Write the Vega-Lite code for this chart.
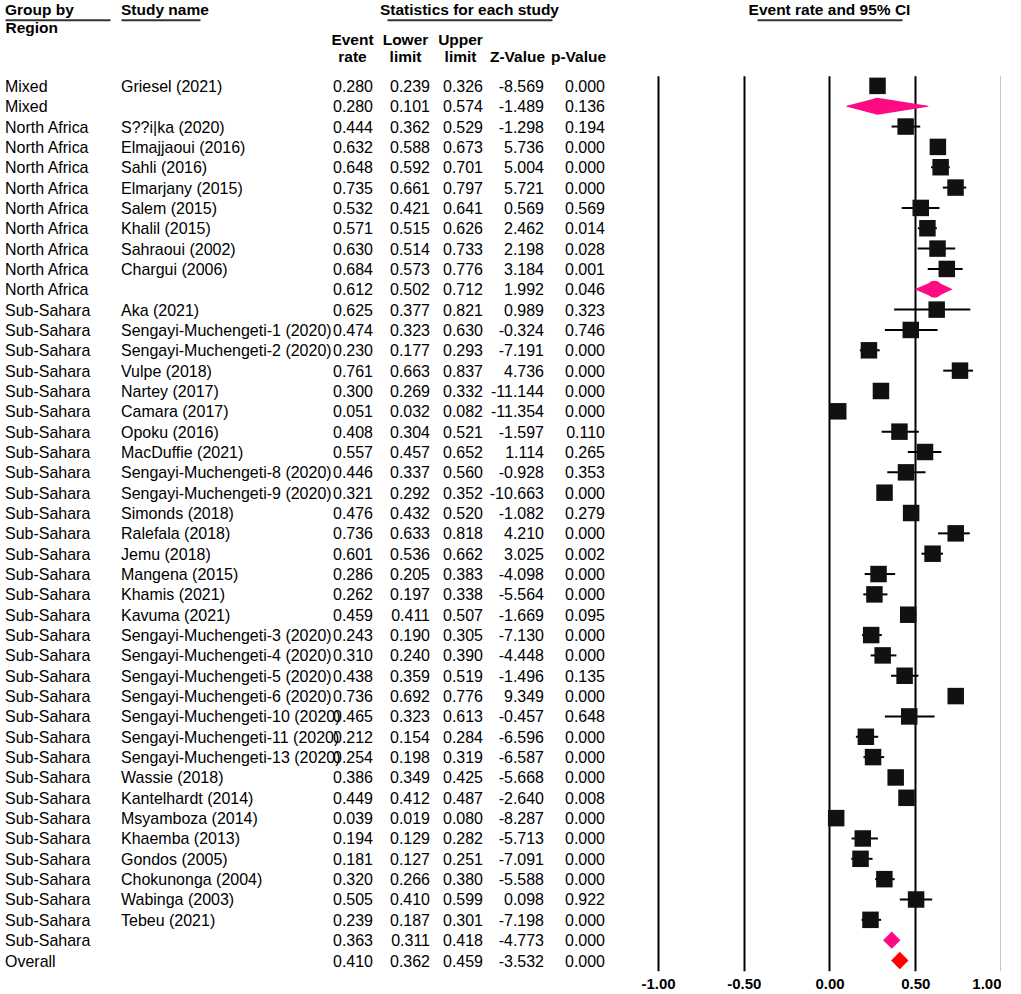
{
  "$schema": "https://vega.github.io/schema/vega-lite/v6.json",
  "padding": {"left": 5, "top": 1.7, "right": 0, "bottom": 0},
  "background": "white",
  "config": {
    "view": {"stroke": null},
    "font": "Liberation Sans",
    "locale": {"number": {"decimal": ".", "thousands": ",", "grouping": [3], "currency": ["$", ""], "minus": "-"}},
    "text": {"font": "Liberation Sans", "fontSize": 16, "color": "black"},
    "title": {"font": "Liberation Sans", "fontSize": 15.5, "fontWeight": "bold", "color": "black", "baseline": "alphabetic"},
    "axis": {"labelFont": "Liberation Sans", "titleFont": "Liberation Sans"}
  },
  "datasets": {
    "rows": [
      {"id": 1, "region": "Mixed", "study": "Griesel  (2021)", "er": 0.280, "ll": 0.239, "ul": 0.326, "z": -8.569, "p": 0.000, "type": "study"},
      {"id": 2, "region": "Mixed", "study": "", "er": 0.280, "ll": 0.101, "ul": 0.574, "z": -1.489, "p": 0.136, "type": "summary"},
      {"id": 3, "region": "North Africa", "study": "S??i|ka (2020)", "er": 0.444, "ll": 0.362, "ul": 0.529, "z": -1.298, "p": 0.194, "type": "study"},
      {"id": 4, "region": "North Africa", "study": "Elmajjaoui (2016)", "er": 0.632, "ll": 0.588, "ul": 0.673, "z": 5.736, "p": 0.000, "type": "study"},
      {"id": 5, "region": "North Africa", "study": "Sahli (2016)", "er": 0.648, "ll": 0.592, "ul": 0.701, "z": 5.004, "p": 0.000, "type": "study"},
      {"id": 6, "region": "North Africa", "study": "Elmarjany (2015)", "er": 0.735, "ll": 0.661, "ul": 0.797, "z": 5.721, "p": 0.000, "type": "study"},
      {"id": 7, "region": "North Africa", "study": "Salem  (2015)", "er": 0.532, "ll": 0.421, "ul": 0.641, "z": 0.569, "p": 0.569, "type": "study"},
      {"id": 8, "region": "North Africa", "study": "Khalil (2015)", "er": 0.571, "ll": 0.515, "ul": 0.626, "z": 2.462, "p": 0.014, "type": "study"},
      {"id": 9, "region": "North Africa", "study": "Sahraoui (2002)", "er": 0.630, "ll": 0.514, "ul": 0.733, "z": 2.198, "p": 0.028, "type": "study"},
      {"id": 10, "region": "North Africa", "study": "Chargui (2006)", "er": 0.684, "ll": 0.573, "ul": 0.776, "z": 3.184, "p": 0.001, "type": "study"},
      {"id": 11, "region": "North Africa", "study": "", "er": 0.612, "ll": 0.502, "ul": 0.712, "z": 1.992, "p": 0.046, "type": "summary"},
      {"id": 12, "region": "Sub-Sahara", "study": "Aka (2021)", "er": 0.625, "ll": 0.377, "ul": 0.821, "z": 0.989, "p": 0.323, "type": "study"},
      {"id": 13, "region": "Sub-Sahara", "study": "Sengayi-Muchengeti-1 (2020)", "er": 0.474, "ll": 0.323, "ul": 0.630, "z": -0.324, "p": 0.746, "type": "study"},
      {"id": 14, "region": "Sub-Sahara", "study": "Sengayi-Muchengeti-2 (2020)", "er": 0.230, "ll": 0.177, "ul": 0.293, "z": -7.191, "p": 0.000, "type": "study"},
      {"id": 15, "region": "Sub-Sahara", "study": "Vulpe (2018)", "er": 0.761, "ll": 0.663, "ul": 0.837, "z": 4.736, "p": 0.000, "type": "study"},
      {"id": 16, "region": "Sub-Sahara", "study": "Nartey (2017)", "er": 0.300, "ll": 0.269, "ul": 0.332, "z": -11.144, "p": 0.000, "type": "study"},
      {"id": 17, "region": "Sub-Sahara", "study": "Camara (2017)", "er": 0.051, "ll": 0.032, "ul": 0.082, "z": -11.354, "p": 0.000, "type": "study"},
      {"id": 18, "region": "Sub-Sahara", "study": "Opoku (2016)", "er": 0.408, "ll": 0.304, "ul": 0.521, "z": -1.597, "p": 0.110, "type": "study"},
      {"id": 19, "region": "Sub-Sahara", "study": "MacDuffie (2021)", "er": 0.557, "ll": 0.457, "ul": 0.652, "z": 1.114, "p": 0.265, "type": "study"},
      {"id": 20, "region": "Sub-Sahara", "study": "Sengayi-Muchengeti-8 (2020)", "er": 0.446, "ll": 0.337, "ul": 0.560, "z": -0.928, "p": 0.353, "type": "study"},
      {"id": 21, "region": "Sub-Sahara", "study": "Sengayi-Muchengeti-9 (2020)", "er": 0.321, "ll": 0.292, "ul": 0.352, "z": -10.663, "p": 0.000, "type": "study"},
      {"id": 22, "region": "Sub-Sahara", "study": "Simonds (2018)", "er": 0.476, "ll": 0.432, "ul": 0.520, "z": -1.082, "p": 0.279, "type": "study"},
      {"id": 23, "region": "Sub-Sahara", "study": "Ralefala (2018)", "er": 0.736, "ll": 0.633, "ul": 0.818, "z": 4.210, "p": 0.000, "type": "study"},
      {"id": 24, "region": "Sub-Sahara", "study": "Jemu (2018)", "er": 0.601, "ll": 0.536, "ul": 0.662, "z": 3.025, "p": 0.002, "type": "study"},
      {"id": 25, "region": "Sub-Sahara", "study": "Mangena (2015)", "er": 0.286, "ll": 0.205, "ul": 0.383, "z": -4.098, "p": 0.000, "type": "study"},
      {"id": 26, "region": "Sub-Sahara", "study": "Khamis (2021)", "er": 0.262, "ll": 0.197, "ul": 0.338, "z": -5.564, "p": 0.000, "type": "study"},
      {"id": 27, "region": "Sub-Sahara", "study": "Kavuma (2021)", "er": 0.459, "ll": 0.411, "ul": 0.507, "z": -1.669, "p": 0.095, "type": "study"},
      {"id": 28, "region": "Sub-Sahara", "study": "Sengayi-Muchengeti-3  (2020)", "er": 0.243, "ll": 0.190, "ul": 0.305, "z": -7.130, "p": 0.000, "type": "study"},
      {"id": 29, "region": "Sub-Sahara", "study": "Sengayi-Muchengeti-4  (2020)", "er": 0.310, "ll": 0.240, "ul": 0.390, "z": -4.448, "p": 0.000, "type": "study"},
      {"id": 30, "region": "Sub-Sahara", "study": "Sengayi-Muchengeti-5  (2020)", "er": 0.438, "ll": 0.359, "ul": 0.519, "z": -1.496, "p": 0.135, "type": "study"},
      {"id": 31, "region": "Sub-Sahara", "study": "Sengayi-Muchengeti-6  (2020)", "er": 0.736, "ll": 0.692, "ul": 0.776, "z": 9.349, "p": 0.000, "type": "study"},
      {"id": 32, "region": "Sub-Sahara", "study": "Sengayi-Muchengeti-10  (2020)", "er": 0.465, "ll": 0.323, "ul": 0.613, "z": -0.457, "p": 0.648, "type": "study"},
      {"id": 33, "region": "Sub-Sahara", "study": "Sengayi-Muchengeti-11  (2020)", "er": 0.212, "ll": 0.154, "ul": 0.284, "z": -6.596, "p": 0.000, "type": "study"},
      {"id": 34, "region": "Sub-Sahara", "study": "Sengayi-Muchengeti-13  (2020)", "er": 0.254, "ll": 0.198, "ul": 0.319, "z": -6.587, "p": 0.000, "type": "study"},
      {"id": 35, "region": "Sub-Sahara", "study": "Wassie (2018)", "er": 0.386, "ll": 0.349, "ul": 0.425, "z": -5.668, "p": 0.000, "type": "study"},
      {"id": 36, "region": "Sub-Sahara", "study": "Kantelhardt (2014)", "er": 0.449, "ll": 0.412, "ul": 0.487, "z": -2.640, "p": 0.008, "type": "study"},
      {"id": 37, "region": "Sub-Sahara", "study": "Msyamboza (2014)", "er": 0.039, "ll": 0.019, "ul": 0.080, "z": -8.287, "p": 0.000, "type": "study"},
      {"id": 38, "region": "Sub-Sahara", "study": "Khaemba (2013)", "er": 0.194, "ll": 0.129, "ul": 0.282, "z": -5.713, "p": 0.000, "type": "study"},
      {"id": 39, "region": "Sub-Sahara", "study": "Gondos (2005)", "er": 0.181, "ll": 0.127, "ul": 0.251, "z": -7.091, "p": 0.000, "type": "study"},
      {"id": 40, "region": "Sub-Sahara", "study": "Chokunonga (2004)", "er": 0.320, "ll": 0.266, "ul": 0.380, "z": -5.588, "p": 0.000, "type": "study"},
      {"id": 41, "region": "Sub-Sahara", "study": "Wabinga (2003)", "er": 0.505, "ll": 0.410, "ul": 0.599, "z": 0.098, "p": 0.922, "type": "study"},
      {"id": 42, "region": "Sub-Sahara", "study": "Tebeu  (2021)", "er": 0.239, "ll": 0.187, "ul": 0.301, "z": -7.198, "p": 0.000, "type": "study"},
      {"id": 43, "region": "Sub-Sahara", "study": "", "er": 0.363, "ll": 0.311, "ul": 0.418, "z": -4.773, "p": 0.000, "type": "summary"},
      {"id": 44, "region": "Overall", "study": "", "er": 0.410, "ll": 0.362, "ul": 0.459, "z": -3.532, "p": 0.000, "type": "overall"}
    ]
  },
  "bounds": "flush",
  "spacing": 57,
  "vconcat": [
    {
      "bounds": "flush",
      "spacing": 0,
      "hconcat": [
        {
          "width": 105, "height": 1,
          "data": {"values": [{"u": 0}]},
          "title": {"text": "Group by", "anchor": "start", "offset": -1.7},
          "mark": {"type": "point", "opacity": 0},
          "encoding": {"x": {"field": "u", "type": "quantitative", "axis": {"domain": true, "domainColor": "#333333", "domainWidth": 2, "ticks": false, "labels": false, "grid": false, "title": "Region", "titleAnchor": "start", "titleAlign": "left", "titleBaseline": "top", "titlePadding": 1, "titleFontSize": 15.5, "titleFontWeight": "bold", "titleColor": "black"}}}
        },
        {"width": 11, "height": 1, "data": {"values": [{"u": 0}]}, "mark": {"type": "point", "opacity": 0}},
        {
          "width": 79, "height": 1,
          "data": {"values": [{"u": 0}]},
          "title": {"text": "Study name", "anchor": "start", "offset": -1.7},
          "mark": {"type": "point", "opacity": 0},
          "encoding": {"x": {"field": "u", "type": "quantitative", "axis": {"domain": true, "domainColor": "#333333", "domainWidth": 2, "ticks": false, "labels": false, "grid": false, "title": null}}}
        },
        {"width": 187, "height": 1, "data": {"values": [{"u": 0}]}, "mark": {"type": "point", "opacity": 0}},
        {
          "width": 165, "height": 1,
          "data": {"values": [{"u": 0}]},
          "title": {"text": "Statistics for each study", "anchor": "middle", "offset": -1.7},
          "mark": {"type": "point", "opacity": 0},
          "encoding": {"x": {"field": "u", "type": "quantitative", "axis": {"domain": true, "domainColor": "#333333", "domainWidth": 2, "ticks": false, "labels": false, "grid": false, "title": null}}}
        },
        {"width": 205, "height": 1, "data": {"values": [{"u": 0}]}, "mark": {"type": "point", "opacity": 0}},
        {
          "width": 145, "height": 1,
          "data": {"values": [{"u": 0}]},
          "title": {"text": "Event rate and 95% CI", "anchor": "middle", "offset": -1.7},
          "mark": {"type": "point", "opacity": 0},
          "encoding": {"x": {"field": "u", "type": "quantitative", "axis": {"domain": true, "domainColor": "#333333", "domainWidth": 2, "ticks": false, "labels": false, "grid": false, "title": null}}}
        }
      ]
    },
    {
      "bounds": "flush",
      "spacing": 0,
      "hconcat": [
        {
          "width": 116, "height": 895,
          "data": {"name": "rows"},
          "transform": [{"fold": ["region", "study"], "as": ["col", "txt"]}],
          "mark": {"type": "text", "align": "left", "baseline": "middle", "dy": 1},
          "encoding": {
            "x": {"field": "col", "type": "nominal", "scale": {"domain": ["region", "study"], "padding": 0}, "axis": null},
            "y": {"field": "id", "type": "quantitative", "scale": {"domain": [0.5, 44.5], "reverse": true, "nice": false, "zero": false}, "axis": null},
            "text": {"field": "txt", "type": "nominal"}
          }
        },
        {"width": 252, "height": 895, "data": {"values": [{"u": 0}]}, "mark": {"type": "point", "opacity": 0}},
        {
          "width": 57, "height": 895,
          "data": {"name": "rows"},
          "transform": [{"fold": ["er", "ll"], "as": ["col", "val"]}],
          "mark": {"type": "text", "align": "right", "baseline": "middle", "dy": 1},
          "encoding": {
            "x": {
              "field": "col", "type": "nominal",
              "scale": {"domain": ["er", "ll"], "padding": 0},
              "axis": {
                "orient": "top", "title": null, "domain": false, "ticks": false, "grid": false,
                "labelAngle": 0, "labelAlign": "center", "labelBaseline": "bottom", "labelLineHeight": 17,
                "labelFontSize": 15.5, "labelFontWeight": "bold", "labelColor": "black", "labelPadding": 28,
                "labelOffset": {"condition": {"test": "datum.value == 'er'", "value": -21}, "value": -25},
                "labelExpr": "datum.value == 'er' ? ['Event', 'rate'] : ['Lower', 'limit']"
              }
            },
            "y": {"field": "id", "type": "quantitative", "scale": {"domain": [0.5, 44.5], "reverse": true, "nice": false, "zero": false}, "axis": null},
            "text": {"field": "val", "type": "quantitative", "format": ".3f"}
          }
        },
        {"width": 53, "height": 895, "data": {"values": [{"u": 0}]}, "mark": {"type": "point", "opacity": 0}},
        {
          "width": 122, "height": 895,
          "data": {"name": "rows"},
          "transform": [{"fold": ["ul", "z", "p"], "as": ["col", "val"]}],
          "mark": {"type": "text", "align": "right", "baseline": "middle", "dy": 1},
          "encoding": {
            "x": {
              "field": "col", "type": "nominal",
              "scale": {"domain": ["ul", "z", "p"], "padding": 0},
              "axis": {
                "orient": "top", "title": null, "domain": false, "ticks": false, "grid": false,
                "labelAngle": 0, "labelAlign": "center", "labelBaseline": "bottom", "labelLineHeight": 17,
                "labelFontSize": 15.5, "labelFontWeight": "bold", "labelColor": "black", "labelPadding": 28,
                "labelOffset": {"condition": {"test": "datum.value == 'ul'", "value": -23}, "value": -27},
                "labelExpr": "datum.value == 'ul' ? ['Upper', 'limit'] : datum.value == 'z' ? ['', 'Z-Value'] : ['', 'p-Value']"
              }
            },
            "y": {"field": "id", "type": "quantitative", "scale": {"domain": [0.5, 44.5], "reverse": true, "nice": false, "zero": false}, "axis": null},
            "text": {"field": "val", "type": "quantitative", "format": ".3f"}
          }
        },
        {
          "width": 396, "height": 895,
          "data": {"name": "rows"},
          "encoding": {
            "y": {"field": "id", "type": "quantitative", "scale": {"domain": [0.5, 44.5], "reverse": true, "nice": false, "zero": false}, "axis": null}
          },
          "layer": [
            {
              "transform": [{"filter": "datum.type == 'study'"}],
              "mark": {"type": "rule", "color": "black", "strokeWidth": 2},
              "encoding": {
                "x": {
                  "field": "ll", "type": "quantitative",
                  "scale": {"domain": [-1.309, 1], "nice": false, "zero": false},
                  "axis": {
                    "orient": "bottom", "values": [-1, -0.5, 0, 0.5, 1], "title": null, "domain": false, "ticks": false,
                    "grid": true, "gridWidth": 2, "gridOpacity": 1,
                    "gridColor": {"condition": {"test": "datum.value === 1", "value": "#8a8a8a"}, "value": "black"},
                    "labelExpr": "format(datum.value, '.2f')",
                    "labelFontSize": 15, "labelFontWeight": "bold", "labelColor": "black", "labelPadding": 6
                  }
                },
                "x2": {"field": "ul"}
              }
            },
            {
              "transform": [{"filter": "datum.type == 'study'"}],
              "mark": {"type": "point", "shape": "square", "filled": true, "size": 272, "color": "#111111", "opacity": 1},
              "encoding": {"x": {"field": "er", "type": "quantitative"}}
            },
            {
              "transform": [{"filter": "datum.type != 'study' && datum.ul - datum.ll > 0.15"}, {"fold": ["ll", "er", "ul"], "as": ["k", "v"]}],
              "mark": {"type": "trail", "color": "#ff0a85", "opacity": 1},
              "encoding": {
                "x": {"field": "v", "type": "quantitative"},
                "detail": {"field": "id", "type": "nominal"},
                "size": {"field": "k", "type": "nominal", "scale": {"type": "ordinal", "domain": ["ll", "er", "ul"], "range": [0, 17, 0]}, "legend": null}
              }
            },
            {
              "transform": [{"filter": "datum.type != 'study' && datum.ul - datum.ll <= 0.15"}],
              "mark": {"type": "point", "shape": "diamond", "filled": true, "size": 300, "opacity": 1},
              "encoding": {
                "x": {"field": "er", "type": "quantitative"},
                "color": {"field": "type", "type": "nominal", "scale": {"domain": ["summary", "overall"], "range": ["#ff0a85", "#ff0000"]}, "legend": null}
              }
            }
          ]
        }
      ]
    }
  ]
}
